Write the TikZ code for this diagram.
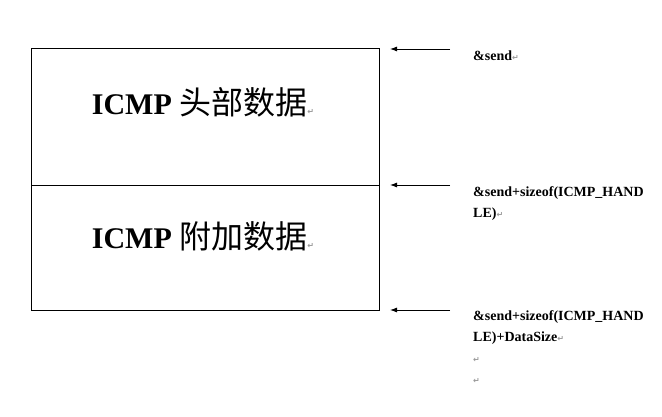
\documentclass[tikz,border=0pt]{standalone}
\usepackage{fontspec}
\setmainfont{Liberation Serif}
\newfontfamily\cjk{Noto Sans CJK SC}
\newfontfamily\symf{DejaVu Sans}
\usetikzlibrary{arrows.meta}
\newcommand{\pmark}{{\symf\color{black!40}\fontsize{8}{8}\selectfont ↵}}
\tikzset{
  blk/.style={draw, line width=0.9pt, minimum width=348pt, inner sep=0pt, fill=none},
  big/.style={font=\fontsize{30}{30}\selectfont\bfseries},
  ptr/.style={line width=0.9pt, -{Latex[length=7pt,width=5pt]}},
  lbl/.style={anchor=base west, inner sep=0pt, align=left, font=\fontsize{14}{21}\selectfont\bfseries}
}
\begin{document}
\begin{tikzpicture}[x=1pt,y=-1pt]
\useasboundingbox (0,0) rectangle (662,417);
\fill[white] (0,0) rectangle (662,417);
\node[blk, minimum height=137pt] (hdr) at (205,116.5) {};
\node[blk, minimum height=125pt] (dat) at (205,247.5) {};
\node[big, anchor=base] (t1) at (203,115) {ICMP {\cjk\mdseries\fontsize{32}{32}\selectfont 头部数据}\pmark};
\node[big, anchor=base] (t2) at (203,248) {ICMP {\cjk\mdseries\fontsize{32}{32}\selectfont 附加数据}\pmark};
\coordinate (s1) at (450,49);
\coordinate (e1) at (390,49);
\coordinate (s2) at (450,185);
\coordinate (e2) at (390,185);
\coordinate (s3) at (450,310);
\coordinate (e3) at (390,310);
\draw[ptr] (s1) -- (e1);
\draw[ptr] (s2) -- (e2);
\draw[ptr] (s3) -- (e3);
\node[lbl] (l1) at (473,61) {\&send\pmark};
\node[lbl] (l2) at (473,218) {\&send+sizeof(ICMP\_HAND\\LE)\pmark};
\node[lbl] (l3) at (473,383) {\&send+sizeof(ICMP\_HAND\\LE)+DataSize\pmark\\\pmark\\\pmark};
\end{tikzpicture}
\end{document}
